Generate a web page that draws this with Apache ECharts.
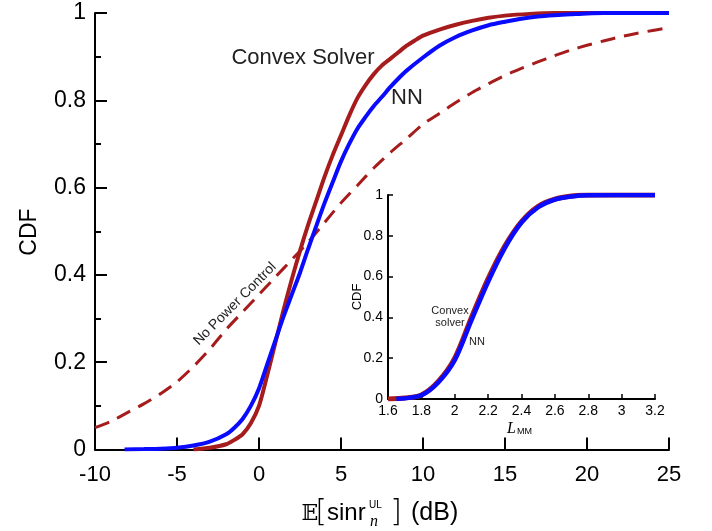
<!DOCTYPE html>
<html>
<head>
<meta charset="utf-8">
<script src="https://cdn.jsdelivr.net/npm/echarts@6/dist/echarts.min.js"></script>
<style>
  html, body { margin: 0; padding: 0; background: #fff; }
  #chart { width: 712px; height: 531px; }
</style>
</head>
<body>
<div id="chart"></div>
<script>
  // main plot: E[sinr] in dB vs CDF
  const convexX = [-4, -3, -2, -1.5, -1, -0.5, 0, 0.5, 1, 1.5, 2, 2.5, 3, 3.5, 4, 4.5, 5, 5.5, 6, 6.5, 7, 7.5, 8, 8.5, 9, 9.5, 10, 11, 12, 13, 14, 15, 16.5, 18, 22.6]
  const convexY = [0, 0.004, 0.012, 0.022, 0.035, 0.06, 0.1, 0.17, 0.245, 0.32, 0.39, 0.455, 0.515, 0.57, 0.625, 0.675, 0.72, 0.765, 0.805, 0.835, 0.86, 0.88, 0.895, 0.91, 0.925, 0.937, 0.948, 0.962, 0.973, 0.982, 0.989, 0.994, 0.998, 1, 1]

  const nnX = [-8.2, -7, -6, -5, -4, -3, -2, -1.5, -1, -0.5, 0, 0.5, 1, 1.5, 2, 2.5, 3, 3.5, 4, 4.5, 5, 5.5, 6, 6.5, 7, 7.5, 8, 8.5, 9, 10, 11, 12, 13, 14, 15, 16, 17, 18, 19, 20, 21, 25]
  const nnY = [0, 0.001, 0.002, 0.004, 0.009, 0.018, 0.035, 0.05, 0.07, 0.1, 0.14, 0.195, 0.25, 0.305, 0.355, 0.405, 0.46, 0.513, 0.565, 0.613, 0.66, 0.7, 0.735, 0.762, 0.787, 0.808, 0.83, 0.85, 0.868, 0.898, 0.925, 0.945, 0.96, 0.972, 0.98, 0.987, 0.992, 0.995, 0.997, 0.999, 1, 1]

  const noPcX = [-10, -9, -8, -7, -6, -5, -4, -3, -2, -1, 0, 1, 2, 3, 4, 5, 6, 7, 8, 9, 10, 11, 12, 13, 14, 15, 16, 17, 18, 19, 20, 21, 22, 23, 24, 24.8]
  const noPcY = [0.05, 0.065, 0.085, 0.105, 0.128, 0.155, 0.19, 0.23, 0.275, 0.315, 0.355, 0.395, 0.435, 0.475, 0.52, 0.565, 0.605, 0.645, 0.68, 0.712, 0.745, 0.77, 0.795, 0.818, 0.838, 0.857, 0.873, 0.888, 0.902, 0.915, 0.926, 0.936, 0.945, 0.953, 0.96, 0.965]

  // inset: L_MM vs CDF
  const insetConvexX = [1.6, 1.7, 1.8, 1.9, 2.0, 2.1, 2.2, 2.3, 2.4, 2.5, 2.6, 2.7, 2.8, 3.2]
  const insetConvexY = [0, 0.005, 0.02, 0.085, 0.2, 0.4, 0.59, 0.75, 0.87, 0.945, 0.98, 0.995, 1, 1]
  const insetNnX = [1.65, 1.7, 1.8, 1.9, 2.0, 2.1, 2.2, 2.3, 2.4, 2.5, 2.6, 2.7, 2.8, 3.2]
  const insetNnY = [0, 0.003, 0.018, 0.08, 0.19, 0.385, 0.575, 0.74, 0.865, 0.94, 0.978, 0.993, 0.999, 1]

  const RED = '#a61c1c'
  const BLUE = '#0a0aff'
  const FONT = 'Liberation Sans, Arial, sans-serif'

  function pairs(xs, ys) {
    return xs.map((x, i) => [x, ys[i]])
  }

  const chart = echarts.init(document.getElementById('chart'), null, {renderer: 'canvas'})

  const axisCommon = {
    axisLine: {onZero: false, lineStyle: {color: '#000', width: 2}},
    splitLine: {show: false}
  }

  chart.setOption({
    animation: false,
    backgroundColor: '#fff',
    grid: [
      {left: 95, right: 43, top: 13, bottom: 81.5, outerBoundsMode: 'none'},
      {left: 388, right: 57, top: 195, bottom: 132, outerBoundsMode: 'none'}
    ],
    xAxis: [
      {
        ...axisCommon,
        gridIndex: 0,
        type: 'value',
        min: -10,
        max: 25,
        interval: 5,
        axisTick: {inside: true, length: 12, lineStyle: {color: '#000', width: 2}},
        axisLabel: {color: '#000', fontSize: 22, fontFamily: FONT, margin: 14}
      },
      {
        ...axisCommon,
        gridIndex: 1,
        type: 'value',
        min: 1.6,
        max: 3.2,
        interval: 0.2,
        axisTick: {inside: true, length: 5, lineStyle: {color: '#000', width: 1.5}},
        axisLabel: {color: '#000', fontSize: 14, fontFamily: FONT, margin: 5,
          formatter: v => String(Math.round(v * 10) / 10)}
      }
    ],
    yAxis: [
      {
        ...axisCommon,
        gridIndex: 0,
        type: 'value',
        min: 0,
        max: 1,
        interval: 0.2,
        axisTick: {inside: true, length: 12, lineStyle: {color: '#000', width: 2}},
        minorTick: {show: true, splitNumber: 2, length: 6, lineStyle: {color: '#000', width: 2}},
        minorSplitLine: {show: false},
        axisLabel: {color: '#000', fontSize: 23, fontFamily: FONT, margin: 9}
      },
      {
        ...axisCommon,
        gridIndex: 1,
        type: 'value',
        min: 0,
        max: 1,
        interval: 0.2,
        axisTick: {inside: true, length: 5, lineStyle: {color: '#000', width: 1.5}},
        axisLabel: {color: '#000', fontSize: 14, fontFamily: FONT, margin: 5}
      }
    ],
    series: [
      {
        name: 'No Power Control',
        type: 'line',
        xAxisIndex: 0,
        yAxisIndex: 0,
        symbol: 'none',
        smooth: 0.25,
        lineStyle: {color: RED, width: 3, type: [15, 9]},
        data: pairs(noPcX, noPcY)
      },
      {
        name: 'Convex Solver',
        type: 'line',
        xAxisIndex: 0,
        yAxisIndex: 0,
        symbol: 'none',
        smooth: 0.25,
        lineStyle: {color: RED, width: 4},
        data: pairs(convexX, convexY)
      },
      {
        name: 'NN',
        type: 'line',
        xAxisIndex: 0,
        yAxisIndex: 0,
        symbol: 'none',
        smooth: 0.25,
        lineStyle: {color: BLUE, width: 4},
        data: pairs(nnX, nnY)
      },
      {
        name: 'Convex solver (inset)',
        type: 'line',
        xAxisIndex: 1,
        yAxisIndex: 1,
        symbol: 'none',
        smooth: 0.3,
        lineStyle: {color: RED, width: 5},
        data: pairs(insetConvexX, insetConvexY)
      },
      {
        name: 'NN (inset)',
        type: 'line',
        xAxisIndex: 1,
        yAxisIndex: 1,
        symbol: 'none',
        smooth: 0.3,
        lineStyle: {color: BLUE, width: 4.5},
        data: pairs(insetNnX, insetNnY)
      }
    ],
    graphic: [
      // axis titles
      {type: 'text', x: 30, y: 232, rotation: Math.PI / 2,
        style: {text: 'CDF', fontSize: 23, fontFamily: FONT, fill: '#000', align: 'center', verticalAlign: 'middle'}},
      {type: 'text', x: 310, y: 514,
        style: {text: '𝔼', fontSize: 22, fontFamily: 'DejaVu Serif, DejaVu Sans, serif', fill: '#000', align: 'center', verticalAlign: 'middle'}},
      {type: 'text', x: 321, y: 513,
        style: {text: '[', fontSize: 30, fontFamily: 'DejaVu Sans, sans-serif', fontWeight: 200, fill: '#000', align: 'center', verticalAlign: 'middle'}},
      {type: 'text', x: 327, y: 513,
        style: {text: 'sinr', fontSize: 24, fontFamily: FONT, fill: '#000', align: 'left', verticalAlign: 'middle'}},
      {type: 'text', x: 369, y: 505,
        style: {text: 'UL', fontSize: 10, fontFamily: FONT, fill: '#000', align: 'left', verticalAlign: 'middle'}},
      {type: 'text', x: 370, y: 522,
        style: {text: 'n', fontSize: 16, fontStyle: 'italic', fontFamily: 'Liberation Serif, serif', fill: '#000', align: 'left', verticalAlign: 'middle'}},
      {type: 'text', x: 396, y: 513,
        style: {text: ']', fontSize: 30, fontFamily: 'DejaVu Sans, sans-serif', fontWeight: 200, fill: '#000', align: 'center', verticalAlign: 'middle'}},
      {type: 'text', x: 411, y: 513,
        style: {text: '(dB)', fontSize: 25, fontFamily: FONT, fill: '#000', align: 'left', verticalAlign: 'middle'}},

      // curve annotations
      {type: 'text', x: 303, y: 58,
        style: {text: 'Convex Solver', fontSize: 22, fontFamily: FONT, fill: '#222', align: 'center', verticalAlign: 'middle'}},
      {type: 'text', x: 407, y: 98,
        style: {text: 'NN', fontSize: 22, fontFamily: FONT, fill: '#222', align: 'center', verticalAlign: 'middle'}},
      {type: 'text', x: 235, y: 304, rotation: Math.PI / 4,
        style: {text: 'No Power Control', fontSize: 14, fontFamily: FONT, fill: '#222', align: 'center', verticalAlign: 'middle'}},

      // inset titles and annotations
      {type: 'text', x: 357, y: 297, rotation: Math.PI / 2,
        style: {text: 'CDF', fontSize: 13, fontFamily: FONT, fill: '#000', align: 'center', verticalAlign: 'middle'}},
      {type: 'text', x: 516, y: 429,
        style: {text: 'L', fontSize: 16, fontStyle: 'italic', fontFamily: 'Liberation Serif, serif', fill: '#000', align: 'right', verticalAlign: 'middle'}},
      {type: 'text', x: 517, y: 432,
        style: {text: 'MM', fontSize: 9, fontFamily: FONT, fill: '#000', align: 'left', verticalAlign: 'middle'}},
      {type: 'text', x: 450, y: 317,
        style: {text: 'Convex\nsolver', fontSize: 11, lineHeight: 12, fontFamily: FONT, fill: '#222', align: 'center', verticalAlign: 'middle'}},
      {type: 'text', x: 477, y: 342,
        style: {text: 'NN', fontSize: 11, fontFamily: FONT, fill: '#222', align: 'center', verticalAlign: 'middle'}}
    ]
  })
</script>
</body>
</html>
